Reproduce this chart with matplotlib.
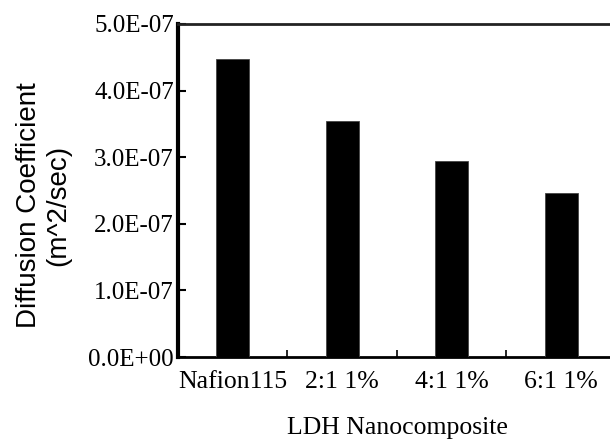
import matplotlib
matplotlib.use("Agg")
import matplotlib.pyplot as plt
from matplotlib.ticker import FixedLocator, FuncFormatter

# data
categories = ["Nafion115", "2:1 1%", "4:1 1%", "6:1 1%"]
diffusion = [4.48e-7, 3.55e-7, 2.95e-7, 2.46e-7]
y_ticks = [0, 1e-7, 2e-7, 3e-7, 4e-7, 5e-7]

fig = plt.figure(figsize=(6.1, 4.43), dpi=100)
ax = fig.add_axes([0.2918, 0.194, 0.718, 0.752])

x = list(range(len(categories)))
ax.bar(x, diffusion, width=0.3, color="black", edgecolor="#444444", linewidth=0.6, zorder=3)

ax.set_xlim(-0.5, len(categories) - 0.5)
ax.set_ylim(0, 5e-7)

ax.set_yticks(y_ticks)
ax.yaxis.set_major_formatter(FuncFormatter(lambda v, p: "%.1E" % v))
ax.tick_params(axis="y", direction="in", length=6, width=1.5, pad=3,
               labelsize=18, labelfontfamily="Liberation Serif")

ax.set_xticks(x)
ax.set_xticklabels(categories, fontfamily="Liberation Serif", fontsize=18.5)
ax.tick_params(axis="x", which="major", length=0, pad=10)
ax.xaxis.set_minor_locator(FixedLocator([0.5, 1.5, 2.5]))
ax.tick_params(axis="x", which="minor", direction="in", length=5, width=1.2)

ax.spines["left"].set_linewidth(3)
ax.spines["bottom"].set_linewidth(2)
ax.spines["top"].set_linewidth(2)
ax.spines["top"].set_color("#222222")
ax.spines["right"].set_visible(False)

ax.set_ylabel("Diffusion Coefficient\n(m^2/sec)", fontfamily="Liberation Sans",
              fontsize=20, linespacing=1.15)
ax.yaxis.set_label_coords(-0.244, 0.456)
ax.set_xlabel("LDH Nanocomposite", fontfamily="Liberation Serif", fontsize=18.5, labelpad=17)

fig.savefig("out.png", dpi=100)
